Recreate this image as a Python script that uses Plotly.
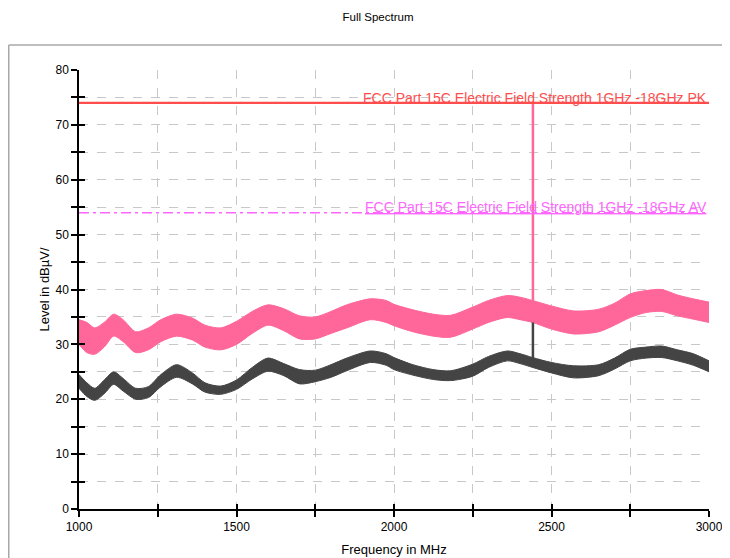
import plotly.graph_objects as go

# ---- data (MHz, dBuV/m) ----
freq = [1000, 1025, 1050, 1080, 1110, 1140, 1180, 1220, 1260, 1310, 1360, 1400,
        1450, 1500, 1550, 1600, 1650, 1700, 1750, 1800, 1850, 1925, 1975, 2000,
        2060, 2125, 2180, 2250, 2300, 2360, 2400, 2440, 2500, 2570, 2650, 2700,
        2750, 2800, 2850, 2900, 2950, 3000]
pk_hi = [34.5, 34.0, 33.0, 34.0, 35.5, 34.5, 32.3, 33.0, 34.5, 35.5, 34.8, 33.5,
         33.0, 34.2, 36.0, 37.2, 36.5, 35.2, 35.0, 36.0, 37.2, 38.3, 38.0, 37.3,
         36.3, 35.5, 35.3, 36.8, 38.0, 38.9, 38.6, 38.0, 37.0, 36.1, 36.4, 37.5,
         39.2, 39.8, 40.0, 39.0, 38.3, 37.7]
pk_lo = [30.0, 28.5, 28.2, 29.5, 31.5, 30.5, 28.5, 29.0, 30.5, 31.5, 30.8, 29.5,
         29.0, 30.0, 32.0, 33.5, 32.5, 31.0, 31.0, 32.0, 33.0, 34.5, 34.0, 33.4,
         32.3, 31.5, 31.3, 32.8, 34.0, 34.9, 34.5, 34.0, 32.8, 31.9, 32.3, 33.5,
         34.9, 35.8, 36.0, 35.2, 34.6, 34.0]
av_hi = [24.5, 23.0, 22.0, 23.5, 25.0, 23.8, 22.0, 22.3, 24.5, 26.3, 24.8, 23.0,
         22.4, 23.5, 25.8, 27.5, 26.5, 25.4, 25.3, 26.3, 27.5, 28.8, 28.3, 27.6,
         26.3, 25.4, 25.2, 26.4, 27.8, 28.8, 28.3, 27.6, 26.7, 26.1, 26.3, 27.5,
         29.1, 29.5, 29.7, 29.0, 28.3, 27.0]
av_lo = [22.0, 20.5, 19.8, 21.0, 22.7, 21.5, 20.0, 20.3, 22.3, 24.0, 22.8, 21.3,
         20.9, 21.8, 23.7, 25.1, 24.3, 22.8, 23.2, 24.0, 25.2, 26.7, 26.2, 25.4,
         24.4, 23.6, 23.4, 24.2, 25.8, 27.0, 26.5, 25.8, 24.8, 23.9, 24.3, 25.5,
         27.0, 27.5, 27.6, 27.0, 26.2, 25.0]

spike_freq = 2441
spike_pk = [34.0, 74.0]
spike_av = [26.0, 34.0]

limit_pk = 74
limit_av = 54
limit_range = [1000, 3000]
label_pk = "FCC Part 15C Electric Field Strength 1GHz -18GHz PK"
label_av = "FCC Part 15C Electric Field Strength 1GHz -18GHz AV"

x_ticks = [1000, 1250, 1500, 1750, 2000, 2250, 2500, 2750, 3000]
x_labels = ["1000", "", "1500", "", "2000", "", "2500", "", "3000"]
y_ticks = list(range(0, 85, 5))
y_labels = [str(v) if v % 10 == 0 else "" for v in y_ticks]

PINK = "#ff6699"
GRAY = "#444444"
RED = "#ff4d4d"
MAG = "#ff66ff"
FONT = "Liberation Sans, Arial"

fig = go.Figure()

# peak band
fig.add_trace(go.Scatter(x=freq, y=pk_lo, mode="lines",
                         line=dict(color=PINK, width=1, shape="spline", smoothing=0.8),
                         showlegend=False, hoverinfo="skip"))
fig.add_trace(go.Scatter(x=freq, y=pk_hi, mode="lines",
                         line=dict(color=PINK, width=1, shape="spline", smoothing=0.8),
                         fill="tonexty", fillcolor=PINK, showlegend=False))
# average band
fig.add_trace(go.Scatter(x=freq, y=av_lo, mode="lines",
                         line=dict(color=GRAY, width=1, shape="spline", smoothing=0.8),
                         showlegend=False, hoverinfo="skip"))
fig.add_trace(go.Scatter(x=freq, y=av_hi, mode="lines",
                         line=dict(color=GRAY, width=1, shape="spline", smoothing=0.8),
                         fill="tonexty", fillcolor=GRAY, showlegend=False))
# spikes
fig.add_trace(go.Scatter(x=[spike_freq, spike_freq], y=spike_pk, mode="lines",
                         line=dict(color=PINK, width=2.5), showlegend=False))
fig.add_trace(go.Scatter(x=[spike_freq, spike_freq], y=spike_av, mode="lines",
                         line=dict(color=GRAY, width=2.5), showlegend=False))
# limits
fig.add_trace(go.Scatter(x=limit_range, y=[limit_pk, limit_pk], mode="lines",
                         line=dict(color=RED, width=2.2), showlegend=False))
fig.add_trace(go.Scatter(x=limit_range, y=[limit_av, limit_av], mode="lines",
                         line=dict(color=MAG, width=1.6, dash="10px,4px,3px,4px"),
                         showlegend=False))
# dummy trace on overlay axes for inner ticks
fig.add_trace(go.Scatter(x=limit_range, y=[limit_av, limit_av], mode="lines",
                         line=dict(width=0), xaxis="x2", yaxis="y2",
                         showlegend=False, hoverinfo="skip"))

fig.add_annotation(x=limit_range[1], y=limit_pk, text=label_pk, showarrow=False,
                   xanchor="right", yanchor="bottom", yshift=-5,
                   font=dict(family=FONT, size=14, color=RED))
fig.add_annotation(x=limit_range[1], y=limit_av, text=label_av, showarrow=False,
                   xanchor="right", yanchor="bottom", yshift=-4,
                   font=dict(family=FONT, size=14, color=MAG, lineposition="under"))

# outer frame (top and left edges; the rest lies outside the view)
fig.add_shape(type="line", xref="paper", yref="paper", x0=-0.1115, x1=1.2,
              y0=1.057, y1=1.057, line=dict(color="#a8a8a8", width=1.5), layer="below")
fig.add_shape(type="line", xref="paper", yref="paper", x0=-0.1115, x1=-0.1115,
              y0=-0.2, y1=1.057, line=dict(color="#a8a8a8", width=1.5), layer="below")

axis_common = dict(showline=True, linecolor="black", linewidth=1.5, ticks="outside",
                   ticklen=6, tickcolor="black", tickwidth=1.5, automargin=False,
                   showgrid=True, gridcolor="#c8c8c8", griddash="dash", gridwidth=1,
                   zeroline=False, tickfont=dict(family=FONT, size=12, color="black"))

fig.update_layout(
    width=722, height=550,
    margin=dict(l=71, r=21, t=62, b=49, autoexpand=False),
    paper_bgcolor="white", plot_bgcolor="white",
    font=dict(family=FONT, size=13, color="black"),
    title=dict(text="Full Spectrum", x=370 / 722, xref="container", xanchor="center",
               y=1 - 9 / 550, yref="container", yanchor="middle",
               font=dict(family=FONT, size=11.5, color="black")),
    xaxis=dict(range=[1000, 3000], tickvals=x_ticks, ticktext=x_labels,
               title=dict(text="Frequency in MHz", standoff=12,
                          font=dict(family=FONT, size=13)),
               **axis_common),
    yaxis=dict(range=[0, 80], tickvals=y_ticks, ticktext=y_labels,
               title=dict(text="Level in dBµV/", standoff=3,
                          font=dict(family=FONT, size=13)),
               **axis_common),
    xaxis2=dict(overlaying="x", matches="x", range=[1000, 3000], tickvals=x_ticks,
                ticks="inside", ticklen=5, tickwidth=1.5, tickcolor="black",
                showticklabels=False, showgrid=False, zeroline=False, showline=False,
                anchor="y2", side="bottom"),
    yaxis2=dict(overlaying="y", matches="y", range=[0, 80], tickvals=y_ticks,
                ticks="inside", ticklen=6, tickwidth=1.5, tickcolor="black",
                showticklabels=False, showgrid=False, zeroline=False, showline=False,
                anchor="x2", side="left"),
    showlegend=False,
)

fig.write_html("out.html")
